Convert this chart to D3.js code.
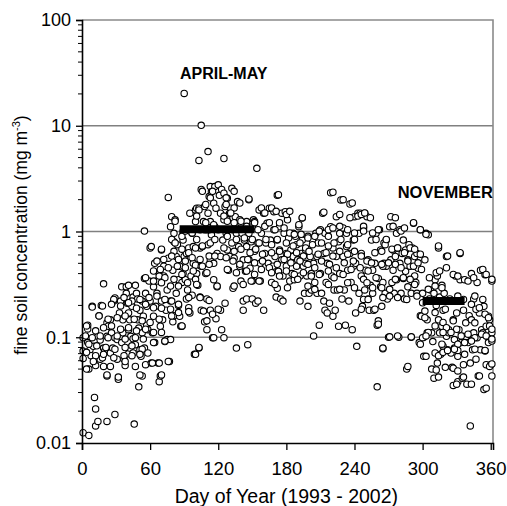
<!DOCTYPE html>
<html>
<head>
<meta charset="utf-8">
<script src="https://cdn.jsdelivr.net/npm/d3@7"></script>
<style>
  html, body { margin: 0; background: #fff; }
  svg { display: block; }
</style>
</head>
<body>
<div id="chart"></div>
<script>
// Day-of-year axis and log concentration axis
const xTicks = [0, 60, 120, 180, 240, 300, 360];
const yTicks = [0.01, 0.1, 1, 10, 100];
const yTickLabels = ['0.01', '0.1', '1', '10', '100'];
const gridValues = [0.1, 1, 10];

// Seasonal mean bars (start day, end day, mean mg m-3)
const seasonMeans = [
  { label: 'APRIL-MAY', start: 86, end: 152, value: 1.05 },
  { label: 'NOVEMBER', start: 300, end: 337, value: 0.22 },
];

// Daily samples: [day of year, fine soil mg m-3]
const samples = [
  [1, 0.0125], [6, 0.0118], [1, 0.099], [1, 0.074], [1, 0.063], [5, 0.13], [5, 0.12], [5, 0.089],
  [6, 0.05], [7, 0.076], [8, 0.067], [9, 0.196], [10, 0.082], [11, 0.027], [12, 0.021], [12, 0.0145],
  [12, 0.054], [14, 0.102], [14, 0.016], [15, 0.16], [16, 0.094], [16, 0.062], [17, 0.2], [19, 0.32],
  [18, 0.064], [19, 0.079], [19, 0.053], [20, 0.074], [22, 0.016], [22, 0.043], [22, 0.137], [23, 0.127],
  [22, 0.102], [25, 0.053], [25, 0.071], [25, 0.146], [26, 0.11], [27, 0.079], [28, 0.22], [29, 0.235],
  [29, 0.099], [29, 0.0186], [31, 0.062], [31, 0.095], [32, 0.04], [33, 0.17], [34, 0.102], [34, 0.22],
  [35, 0.089], [35, 0.3], [36, 0.146], [36, 0.11], [37, 0.062], [38, 0.054], [39, 0.3], [39, 0.26],
  [40, 0.21], [41, 0.17], [41, 0.118], [41, 0.07], [42, 0.079], [42, 0.146], [43, 0.102], [44, 0.196],
  [45, 0.24], [45, 0.097], [45, 0.071], [46, 0.0151], [47, 0.31], [47, 0.053], [47, 0.085], [48, 0.26],
  [49, 0.23], [49, 0.146], [50, 0.122], [50, 0.034], [51, 0.18], [51, 0.076], [52, 0.066], [53, 0.22],
  [53, 0.043], [53, 0.11], [54, 0.158], [55, 0.36], [55, 1.01], [55, 0.079], [56, 0.055], [56, 0.26],
  [57, 0.196], [57, 0.13], [58, 0.071], [58, 0.118], [59, 0.34], [60, 0.22], [60, 0.7], [61, 0.72],
  [61, 0.057], [62, 0.11], [63, 0.158], [63, 0.3], [64, 0.5], [64, 0.089], [65, 0.196], [66, 0.34],
  [66, 0.26], [67, 0.057], [68, 0.4], [68, 0.038], [69, 0.127], [69, 0.043], [70, 0.67], [70, 0.22],
  [71, 0.146], [72, 0.47], [72, 0.38], [73, 0.091], [74, 0.18], [75, 0.28], [75, 0.095], [76, 2.1],
  [76, 0.56], [77, 0.059], [78, 0.095], [78, 0.22], [78, 1.11], [79, 1.38], [80, 0.43], [80, 0.14],
  [81, 0.96], [81, 0.8], [81, 0.16], [82, 1.29], [83, 0.26], [83, 0.58], [84, 0.75], [85, 0.35],
  [85, 0.2], [86, 0.158], [86, 0.47], [87, 0.127], [88, 0.33], [88, 0.127], [89, 0.4], [89, 1.0],
  [89, 0.83], [90, 0.58], [91, 1.04], [91, 0.35], [92, 0.23],
  [90, 20.2], [92, 0.62], [93, 0.28], [94, 0.19], [94, 0.7], [95, 0.17], [95, 1.49], [96, 0.38],
  [97, 0.25], [97, 0.96], [98, 0.5], [98, 0.72], [99, 0.069], [100, 1.24], [100, 0.48], [100, 1.6],
  [101, 1.66], [101, 0.4], [102, 0.31], [103, 4.7], [103, 1.66], [103, 0.079], [104, 0.7], [104, 0.24],
  [105, 2.5], [105, 10.1], [105, 0.47], [105, 0.18], [106, 0.72], [107, 1.24], [108, 1.04], [108, 1.72],
  [108, 0.14], [109, 0.4], [110, 1.04], [110, 0.118], [110, 0.23], [111, 5.7], [111, 1.49], [111, 0.75],
  [112, 2.14], [113, 2.66], [113, 1.24], [113, 0.54], [113, 0.18], [114, 2.38], [114, 0.93], [115, 0.099],
  [116, 1.85], [116, 0.35], [116, 0.5], [117, 2.66], [117, 1.11], [118, 1.66], [118, 0.15], [119, 0.62],
  [119, 0.3], [120, 1.04], [120, 2.76], [121, 2.2], [122, 0.18], [122, 0.58], [122, 1.49], [123, 2.5],
  [123, 0.118], [124, 0.83], [125, 4.9], [125, 1.29], [125, 0.099], [125, 2.3], [126, 1.72], [126, 0.21],
  [127, 0.96], [128, 0.67], [128, 2.06], [129, 0.43], [129, 1.29], [130, 1.49], [130, 0.58], [131, 1.66],
  [132, 2.56], [132, 0.78], [133, 1.04], [133, 0.29], [133, 1.34], [134, 0.56], [135, 1.38], [136, 0.079],
  [136, 0.96], [137, 1.92], [138, 0.72], [139, 1.29], [139, 0.47], [140, 0.34], [140, 1.2], [141, 0.96],
  [142, 0.54], [142, 0.22], [142, 0.18], [143, 0.83], [144, 0.42], [145, 1.24], [145, 0.23], [145, 0.72],
  [146, 0.085], [147, 2.0], [147, 0.54], [147, 0.96], [148, 0.45], [149, 0.8], [150, 0.23], [150, 0.34],
  [150, 1.11], [151, 1.29], [152, 0.65], [152, 1.24], [153, 0.21], [154, 3.96], [155, 0.78], [155, 0.22],
  [156, 1.6], [157, 0.5], [157, 0.34], [158, 0.96], [160, 1.49], [160, 0.18], [161, 0.62], [162, 0.78],
  [163, 1.2], [164, 0.5], [165, 1.66], [166, 0.83], [167, 0.33], [168, 0.47], [169, 1.04], [169, 1.54],
  [170, 0.58], [171, 0.24], [172, 2.2], [172, 0.83], [172, 0.29], [173, 0.42], [174, 0.67], [174, 1.11],
  [175, 0.23], [176, 1.49], [176, 0.54], [177, 0.22], [177, 0.38], [178, 0.96], [179, 1.54], [180, 0.62],
  [180, 0.47], [181, 1.29], [182, 0.87], [183, 0.34], [183, 0.54], [184, 0.67], [185, 0.4], [186, 0.96],
  [186, 0.58], [187, 0.35], [188, 0.9], [189, 0.47], [189, 0.75], [190, 0.54], [191, 1.11], [192, 0.22],
  [192, 0.38], [193, 0.62], [194, 0.83], [194, 1.34], [195, 0.47], [196, 0.26], [197, 0.67], [197, 0.5],
  [198, 0.38], [199, 0.196], [199, 0.9], [200, 0.26], [201, 0.58], [202, 0.4], [202, 0.28], [203, 0.83],
  [204, 0.103], [204, 0.5], [205, 0.33], [206, 0.96], [207, 0.58], [207, 0.26], [208, 0.78], [209, 0.13],
  [210, 1.04], [210, 0.4], [211, 0.26], [212, 1.49], [213, 0.62], [213, 0.22], [214, 0.18], [214, 0.96],
  [215, 0.33], [216, 0.5], [216, 0.17], [217, 0.9], [218, 0.21], [219, 1.11], [219, 2.33], [220, 0.38],
  [221, 0.158], [221, 0.7], [222, 0.28], [223, 0.18], [224, 0.58], [224, 1.38], [225, 0.28], [226, 0.8],
  [226, 0.127], [227, 0.96], [227, 0.4], [228, 1.99], [229, 0.23], [230, 0.58], [230, 1.08], [231, 0.28],
  [232, 0.13], [233, 0.72], [233, 0.96], [234, 0.43], [235, 0.22], [236, 0.62], [236, 1.82], [237, 0.33],
  [238, 0.118], [239, 0.47], [239, 0.83], [240, 1.38], [241, 0.17], [241, 0.5], [242, 0.082], [243, 1.49],
  [244, 0.26], [244, 0.96], [245, 1.49], [246, 0.38], [246, 0.62], [247, 0.196], [248, 1.08], [249, 1.49],
  [249, 0.28], [250, 0.43], [251, 1.38], [252, 0.23], [252, 0.54], [253, 0.18], [254, 0.31], [255, 0.83],
  [256, 0.43], [256, 0.26], [257, 0.18], [258, 0.5], [259, 0.96], [260, 0.13], [260, 0.034], [261, 0.36],
  [262, 1.04], [263, 0.3], [263, 0.67], [264, 0.196], [265, 0.33], [265, 0.078], [266, 0.5], [266, 0.78],
  [267, 0.26], [268, 0.83], [268, 0.47], [269, 0.23], [270, 0.1], [271, 1.11], [272, 0.54], [272, 1.38],
  [273, 0.33], [274, 0.67], [274, 0.43], [275, 0.26], [276, 0.58], [277, 0.96], [277, 0.35], [278, 0.7],
  [279, 0.1], [280, 0.5], [280, 1.04], [281, 0.26], [282, 0.62], [283, 0.36], [283, 0.83], [284, 0.23],
  [285, 0.42], [285, 0.67], [286, 0.05], [287, 0.54], [287, 0.3], [288, 0.75], [289, 0.47], [290, 0.26],
  [290, 0.1], [291, 0.7], [292, 1.2], [293, 0.38], [293, 0.58], [294, 0.33], [295, 0.62], [295, 0.26],
  [296, 0.45], [297, 0.089], [298, 1.04], [298, 0.16], [299, 0.158], [300, 0.26], [301, 0.1], [301, 0.066],
  [302, 0.54], [303, 0.96], [304, 0.146], [304, 0.11], [305, 0.93], [306, 0.23], [307, 0.28], [308, 0.05],
  [308, 0.11], [309, 0.091], [310, 0.26], [310, 0.041], [311, 0.35], [311, 0.071], [312, 0.2], [313, 0.38],
  [313, 0.057], [314, 0.7], [314, 0.146], [315, 0.24], [315, 0.11], [316, 0.069], [317, 0.31], [317, 0.127],
  [318, 0.082], [318, 0.18], [319, 0.26], [320, 0.052], [321, 0.58], [321, 0.102], [322, 0.076], [323, 0.11],
  [323, 0.118], [324, 0.23], [325, 0.071], [326, 0.052], [327, 0.146], [327, 0.035], [328, 0.079], [328, 0.095],
  [329, 0.38], [330, 0.17], [331, 0.038], [331, 0.066], [332, 0.118], [333, 0.62], [333, 0.35], [334, 0.089],
  [335, 0.041], [335, 0.102], [336, 0.18], [336, 0.055], [337, 0.35], [338, 0.099], [338, 0.137], [339, 0.036],
  [340, 0.089], [341, 0.16], [342, 0.0145], [342, 0.106], [342, 0.057], [343, 0.4], [343, 0.146], [344, 0.076],
  [345, 0.23], [345, 0.11], [346, 0.137], [347, 0.062], [348, 0.33], [348, 0.099], [349, 0.043], [350, 0.17],
  [351, 0.076], [351, 0.43], [352, 0.118], [353, 0.11], [354, 0.196], [354, 0.032], [355, 0.074], [355, 0.39],
  [356, 0.055], [356, 0.127], [357, 0.102], [358, 0.158], [358, 0.089], [359, 0.146], [360, 0.055], [361, 0.34],
  [361, 0.043], [361, 0.11],
  // winter / spring cluster, second pass
  [28, 0.228], [37, 0.237], [44, 0.22], [51, 0.228], [59, 0.237], [66, 0.245], [73, 0.228], [79, 0.22],
  [85, 0.205], [94, 0.237], [104, 0.237], [112, 0.223], [9, 0.193], [18, 0.198], [26, 0.205], [34, 0.198],
  [41, 0.212], [48, 0.188], [56, 0.205], [63, 0.19], [70, 0.188], [78, 0.184], [85, 0.171], [94, 0.175],
  [107, 0.177], [115, 0.165], [120, 0.184], [15, 0.159], [23, 0.148], [31, 0.153], [38, 0.159], [46, 0.148],
  [53, 0.143], [60, 0.138], [68, 0.148], [79, 0.159], [88, 0.128], [110, 0.143], [4, 0.128], [12, 0.115],
  [19, 0.123], [26, 0.128], [34, 0.119], [41, 0.123], [48, 0.115], [56, 0.119], [63, 0.111], [70, 0.111],
  [3, 0.103], [9, 0.099], [16, 0.103], [23, 0.099], [31, 0.103], [38, 0.096], [47, 0.099], [54, 0.096],
  [63, 0.089], [73, 0.092], [6, 0.086], [13, 0.083], [21, 0.08], [29, 0.077], [38, 0.08], [44, 0.083],
  [53, 0.077], [4, 0.072], [12, 0.067], [19, 0.069], [28, 0.064], [37, 0.067], [44, 0.067], [51, 0.069],
  [103, 0.08], [100, 0.069], [4, 0.05], [10, 0.059], [22, 0.044], [32, 0.042], [38, 0.059], [62, 0.057],
  [68, 0.057], [76, 0.059], [51, 0.044], [70, 0.044], [116, 0.099],
  [82, 1.25], [79, 0.84], [82, 0.78], [88, 0.9], [91, 1.01], [97, 0.97], [101, 0.84], [104, 1.04],
  [109, 1.21], [112, 1.04], [116, 1.16], [103, 1.6], [101, 1.4], [109, 1.8], [113, 2.08], [115, 2.4],
  [106, 2.4], [70, 0.68], [81, 0.65], [88, 0.68], [94, 0.63], [100, 0.7], [106, 0.73], [113, 0.78],
  [117, 0.84], [66, 0.525], [72, 0.545], [79, 0.585], [85, 0.545], [91, 0.525], [97, 0.565], [104, 0.545],
  [112, 0.585], [117, 0.585], [63, 0.423], [69, 0.438], [76, 0.454], [84, 0.47], [91, 0.454], [98, 0.423],
  [106, 0.47], [112, 0.489], [68, 0.379], [73, 0.366], [81, 0.353], [88, 0.393], [100, 0.353], [110, 0.408],
  [56, 0.366], [63, 0.34], [70, 0.328], [78, 0.305], [85, 0.305], [93, 0.328], [101, 0.316], [119, 0.305],
  [41, 0.31],
  // summer plateau, second pass
  [127, 2.08], [134, 2.4], [173, 2.23], [221, 2.35], [230, 2.0], [238, 1.86], [147, 2.03], [127, 1.8],
  [134, 1.67], [139, 1.86], [131, 1.5], [125, 1.4], [158, 1.67], [161, 1.5], [167, 1.67], [171, 1.55],
  [180, 1.45], [183, 1.55], [194, 1.35], [213, 1.52], [227, 1.45], [236, 1.35], [243, 1.4], [191, 1.16],
  [128, 1.25], [134, 1.21], [140, 1.25], [145, 1.12], [152, 1.21], [155, 1.04], [161, 1.12], [165, 1.21],
  [170, 1.04], [174, 1.21], [178, 1.08], [183, 0.97], [187, 0.94], [193, 0.94], [199, 0.87], [205, 0.9],
  [209, 1.01], [217, 1.04], [221, 1.08], [227, 1.12], [234, 1.04], [240, 0.97],
  [128, 0.9], [136, 0.84], [143, 0.87], [150, 0.84], [156, 0.78], [162, 0.84], [167, 0.75], [172, 0.84],
  [180, 0.78], [186, 0.73], [192, 0.78], [197, 0.7], [203, 0.75], [211, 0.78], [217, 0.73], [222, 0.78],
  [228, 0.84], [234, 0.75], [240, 0.84],
  [125, 0.7], [134, 0.65], [140, 0.68], [148, 0.63], [153, 0.68], [159, 0.61], [167, 0.63], [174, 0.65],
  [181, 0.61], [189, 0.63], [195, 0.585], [200, 0.65], [208, 0.61], [215, 0.63], [221, 0.585], [227, 0.65],
  [234, 0.61], [240, 0.65],
  [127, 0.565], [133, 0.525], [139, 0.489], [146, 0.545], [152, 0.506], [159, 0.525], [165, 0.454], [172, 0.489],
  [178, 0.545], [184, 0.506], [192, 0.525], [199, 0.489], [205, 0.454], [211, 0.525], [218, 0.489], [224, 0.454],
  [231, 0.506], [239, 0.525],
  [128, 0.438], [136, 0.408], [145, 0.423], [152, 0.393], [158, 0.438], [167, 0.408], [174, 0.379], [180, 0.423],
  [187, 0.393], [195, 0.408], [202, 0.379], [209, 0.393], [217, 0.423], [222, 0.366], [230, 0.393], [237, 0.438],
  [134, 0.305], [142, 0.316], [149, 0.34], [156, 0.34], [170, 0.316], [181, 0.294], [190, 0.353], [199, 0.305],
  [205, 0.284], [217, 0.316], [227, 0.284], [234, 0.328], [240, 0.294],
  // autumn, second pass
  [246, 1.45], [249, 1.5], [254, 1.35], [248, 1.12], [248, 1.01], [256, 0.97], [259, 0.84], [261, 1.04],
  [267, 0.75], [268, 0.84], [274, 1.12], [276, 1.35], [281, 1.01], [284, 1.08], [292, 1.21], [298, 1.04],
  [303, 0.94], [314, 0.73], [322, 0.585], [333, 0.63], [258, 0.63], [264, 0.65], [265, 0.47], [273, 0.68],
  [278, 0.7], [284, 0.63], [289, 0.7], [293, 0.68], [298, 0.61], [246, 0.585], [251, 0.525], [255, 0.506],
  [245, 0.454], [252, 0.423], [264, 0.489], [270, 0.506], [276, 0.489], [281, 0.454], [287, 0.525], [292, 0.47],
  [296, 0.506], [299, 0.438], [306, 0.366], [312, 0.408], [315, 0.423], [321, 0.454], [327, 0.393], [331, 0.379],
  [340, 0.34], [345, 0.366], [353, 0.438], [356, 0.393], [361, 0.353], [248, 0.353], [251, 0.328], [259, 0.366],
  [256, 0.294], [264, 0.294], [271, 0.284], [276, 0.353], [283, 0.366], [289, 0.353], [293, 0.316], [305, 0.284],
  [311, 0.305], [317, 0.294],
  [248, 0.228], [246, 0.184], [252, 0.228], [258, 0.184], [265, 0.237], [271, 0.245], [278, 0.237], [286, 0.228],
  [295, 0.245], [300, 0.212], [302, 0.177], [302, 0.153], [311, 0.171], [320, 0.184], [321, 0.22], [331, 0.245],
  [336, 0.228], [343, 0.205], [346, 0.245], [347, 0.184], [350, 0.19], [353, 0.228], [355, 0.165], [358, 0.153],
  [359, 0.128], [361, 0.119], [361, 0.092], [261, 0.143], [261, 0.133], [311, 0.128], [318, 0.138], [327, 0.143],
  [321, 0.123], [330, 0.119], [305, 0.111], [318, 0.111], [325, 0.111], [334, 0.103], [340, 0.107], [346, 0.099],
  [352, 0.107], [356, 0.103], [361, 0.096], [271, 0.101], [278, 0.103], [290, 0.101], [300, 0.099], [303, 0.103],
  [298, 0.086], [317, 0.086], [331, 0.086], [337, 0.089], [343, 0.092], [331, 0.075], [337, 0.069], [346, 0.077],
  [355, 0.075], [328, 0.077], [303, 0.066], [314, 0.067], [318, 0.072], [322, 0.075], [265, 0.079], [287, 0.053],
  [312, 0.049], [314, 0.042], [327, 0.051], [331, 0.048], [336, 0.042], [330, 0.036], [343, 0.036], [350, 0.043],
  [356, 0.033], [359, 0.053], [361, 0.056],
];

const W = 507, H = 506;
const margin = { top: 20, right: 14, bottom: 63, left: 82 };
const plotW = W - margin.left - margin.right;
const plotH = H - margin.top - margin.bottom;
const FONT = '"Liberation Sans", Arial, sans-serif';

const svg = d3.select('#chart').append('svg')
  .attr('width', W).attr('height', H)
  .attr('viewBox', `0 0 ${W} ${H}`);
const g = svg.append('g').attr('transform', `translate(${margin.left},${margin.top})`);

const x = d3.scaleLinear().domain([0, 362]).range([0, plotW]);
const y = d3.scaleLog().domain([0.01, 100]).range([plotH, 0]);

// horizontal gridlines at each decade
g.selectAll('.grid')
  .data(gridValues)
  .enter().append('line')
  .attr('x1', 0).attr('x2', plotW)
  .attr('y1', (d) => y(d)).attr('y2', (d) => y(d))
  .attr('stroke', '#808080').attr('stroke-width', 1.6);

// top and right frame
g.append('path')
  .attr('d', `M0,${y(100)}H${plotW}V${plotH}`)
  .attr('fill', 'none').attr('stroke', '#8a8a8a').attr('stroke-width', 1.6);

// sample points
g.selectAll('.pt')
  .data(samples)
  .enter().append('circle')
  .attr('cx', (d) => x(d[0]))
  .attr('cy', (d) => y(d[1]))
  .attr('r', 3.2)
  .attr('fill', '#fff')
  .attr('stroke', '#000')
  .attr('stroke-width', 1.1);

// seasonal mean bars, drawn over the cloud
g.selectAll('.mean')
  .data(seasonMeans)
  .enter().append('line')
  .attr('x1', (d) => x(d.start)).attr('x2', (d) => x(d.end))
  .attr('y1', (d) => y(d.value)).attr('y2', (d) => y(d.value))
  .attr('stroke', '#000').attr('stroke-width', 8);

// Y axis with minor ticks
const minorTicks = [];
for (let k = -2; k < 2; k++) {
  for (let m = 2; m <= 9; m++) minorTicks.push(m * Math.pow(10, k));
}
const yAxis = d3.axisLeft(y)
  .tickValues(yTicks)
  .tickSize(6)
  .tickPadding(5)
  .tickFormat((d, i) => yTickLabels[i]);
g.append('g')
  .call(yAxis)
  .call((sel) => {
    sel.select('.domain').attr('stroke', '#000').attr('stroke-width', 1.6);
    sel.selectAll('line').attr('stroke', '#000').attr('stroke-width', 1.3);
    sel.selectAll('text')
      .attr('fill', '#000')
      .attr('font-size', 18)
      .attr('font-family', FONT);
  });
g.selectAll('.minor')
  .data(minorTicks)
  .enter().append('line')
  .attr('x1', -4).attr('x2', 0)
  .attr('y1', (d) => y(d)).attr('y2', (d) => y(d))
  .attr('stroke', '#000').attr('stroke-width', 1);

// X axis
const xAxis = d3.axisBottom(x)
  .tickValues(xTicks)
  .tickSize(7)
  .tickPadding(12)
  .tickFormat(d3.format('d'));
g.append('g')
  .attr('transform', `translate(0,${plotH})`)
  .call(xAxis)
  .call((sel) => {
    sel.select('.domain').attr('stroke', '#000').attr('stroke-width', 1.6);
    sel.selectAll('line').attr('stroke', '#000').attr('stroke-width', 1.3);
    sel.selectAll('text')
      .attr('fill', '#000')
      .attr('font-size', 18.5)
      .attr('font-family', FONT);
  });

// season labels
svg.append('text')
  .attr('x', 180).attr('y', 79)
  .attr('font-family', FONT).attr('font-weight', 'bold').attr('font-size', 16)
  .text('APRIL-MAY');
svg.append('text')
  .attr('x', 493).attr('y', 198)
  .attr('text-anchor', 'end')
  .attr('font-family', FONT).attr('font-weight', 'bold').attr('font-size', 16.5)
  .text('NOVEMBER');

// axis titles
svg.append('text')
  .attr('x', margin.left + x(180)).attr('y', 503)
  .attr('text-anchor', 'middle')
  .attr('font-family', FONT).attr('font-size', 19.5)
  .text('Day of Year (1993 - 2002)');

const yTitle = svg.append('text')
  .attr('transform', `translate(27,${235}) rotate(-90)`)
  .attr('text-anchor', 'middle')
  .attr('font-family', FONT).attr('font-size', 17.5);
yTitle.append('tspan').text('fine soil concentration (mg m');
yTitle.append('tspan').attr('font-size', 11).attr('dy', -7).text('-3');
yTitle.append('tspan').attr('dy', 7).text(')');
</script>
</body>
</html>
